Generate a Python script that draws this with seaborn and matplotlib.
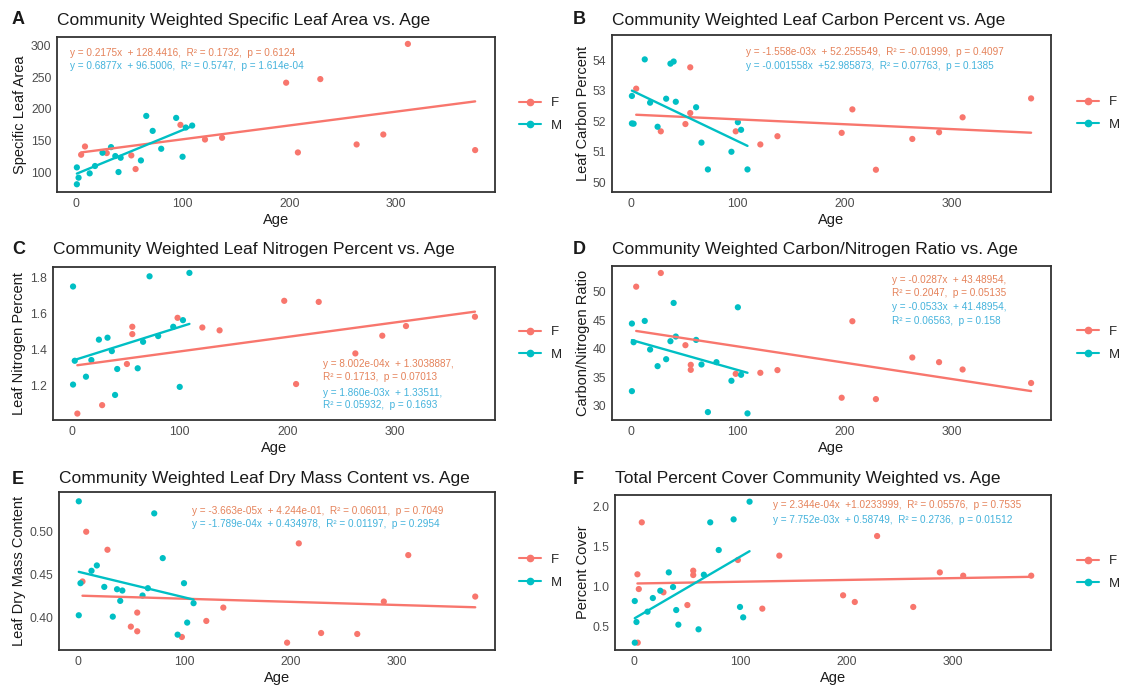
import pandas as pd
import matplotlib.pyplot as plt
import seaborn as sns
from matplotlib.lines import Line2D

sns.set_theme(style='white')
plt.rcParams['font.family'] = ['Liberation Sans', 'DejaVu Sans']

W, H = 1127, 689
pal = {'F': '#F8766D', 'M': '#00BFC4'}
txt_col = {'F': '#E5825A', 'M': '#44B3DC'}

# %% values
age_m = [1, 1, 2.6, 13, 18, 25, 33, 37, 40, 42, 61, 66, 72, 80, 94, 100, 103, 109]
age_m_b = [1, 1, 2.6, 13, 18, 25, 33, 37, 40, 42, 61, 66, 72, 94, 100, 103, 109]

sla_f_age = [5, 8.6, 29, 52, 56, 98, 121, 137, 197, 208, 229, 263, 288, 311, 374]
sla_f = [127.8, 140.8, 130.4, 126.7, 105.2, 174.9, 151.8, 154.5, 241.4, 131.4, 247.1, 144.0, 159.7, 302.6, 135.1]
sla_m = [81.2, 107.8, 91.6, 98.4, 110.0, 130.9, 139.8, 125.7, 100.5, 123.0, 118.8, 189.0, 165.4, 137.2, 185.9, 124.6, 170.7, 173.8]

carbon_f_age = [5, 28, 51, 55.5, 55.5, 98, 121, 137, 197, 207, 229, 263, 288, 310, 374]
carbon_f = [53.07, 51.67, 51.91, 53.77, 52.27, 51.67, 51.24, 51.51, 51.62, 52.39, 50.41, 51.42, 51.64, 52.13, 52.75]
carbon_m = [52.83, 51.93, 51.92, 54.03, 52.61, 51.82, 52.74, 53.89, 53.96, 52.64, 52.46, 51.30, 50.42, 51.0, 51.97, 51.72, 50.42]

nitro_f_age = [5, 28, 51, 56, 56, 98, 121, 137, 197, 208, 229, 263, 288, 310, 374]
nitro_f = [1.042, 1.089, 1.319, 1.527, 1.486, 1.577, 1.523, 1.507, 1.672, 1.207, 1.666, 1.378, 1.477, 1.531, 1.583]
nitro_m = [1.752, 1.204, 1.337, 1.248, 1.341, 1.455, 1.466, 1.391, 1.146, 1.291, 1.295, 1.443, 1.809, 1.475, 1.527, 1.191, 1.564, 1.828]

cn_f_age = [5, 28, 51, 56, 56, 98, 121, 137, 197, 207, 229, 263, 288, 310, 374]
cn_f = [50.92, 53.32, 40.64, 37.19, 36.31, 35.61, 35.79, 36.26, 31.41, 44.85, 31.17, 38.48, 37.66, 36.37, 34.0]
cn_m = [44.44, 32.57, 41.16, 44.9, 39.88, 36.96, 38.18, 41.34, 48.06, 42.16, 41.57, 37.25, 28.89, 37.66, 34.39, 47.3, 35.44, 28.66]

ldmc_f_age = [4.5, 8, 28, 50, 56, 56, 98, 121, 137, 197, 208, 229, 263, 288, 311, 374]
ldmc_f = [0.4415, 0.4992, 0.4783, 0.3891, 0.3837, 0.4054, 0.3771, 0.3957, 0.4112, 0.3705, 0.4857, 0.3817, 0.3806, 0.4182, 0.4721, 0.424]
ldmc_m = [0.5345, 0.4023, 0.4395, 0.4539, 0.4601, 0.4352, 0.4007, 0.4325, 0.419, 0.431, 0.4252, 0.4337, 0.5205, 0.4686, 0.3798, 0.4395, 0.3938, 0.4163]

cover_f_age = [3.5, 3.8, 4.8, 7.6, 28, 50.5, 56, 56, 98, 121, 137, 197, 208, 229, 263, 288, 310, 374]
cover_f = [1.151, 0.301, 0.968, 1.797, 0.927, 0.769, 1.196, 1.142, 1.329, 0.724, 1.383, 0.890, 0.807, 1.627, 0.745, 1.175, 1.134, 1.134]
cover_m = [0.819, 0.301, 0.558, 0.686, 0.856, 0.947, 1.175, 0.993, 0.707, 0.525, 0.467, 1.146, 1.797, 1.453, 1.834, 0.745, 0.616, 2.054]

panels = [
    dict(tag='A', title='Community Weighted Specific Leaf Area vs. Age', ylab='Specific Leaf Area',
         f_age=sla_f_age, f=sla_f, m_age=age_m, m=sla_m,
         yticks=[100, 150, 200, 250, 300], ylim=(69, 313.5), box=(57, 37, 495, 192), title_y=20,
         notes=[('y = 0.2175x  + 128.4416,  R² = 0.1732,  p = 0.6124', 'F', -5, 288),
                ('y = 0.6877x  + 96.5006,  R² = 0.5747,  p = 1.614e-04', 'M', -5, 268)]),
    dict(tag='B', title='Community Weighted Leaf Carbon Percent vs. Age', ylab='Leaf Carbon Percent',
         f_age=carbon_f_age, f=carbon_f, m_age=age_m_b, m=carbon_m,
         yticks=[50, 51, 52, 53, 54], ylim=(49.68, 54.83), box=(612, 35, 1051, 192), title_y=20,
         notes=[('y = -1.558e-03x  + 52.255549,  R² = -0.01999,  p = 0.4097', 'F', 108, 54.28),
                ('y = -0.001558x  +52.985873,  R² = 0.07763,  p = 0.1385', 'M', 108, 53.80)]),
    dict(tag='C', title='Community Weighted Leaf Nitrogen Percent vs. Age', ylab='Leaf Nitrogen Percent',
         f_age=nitro_f_age, f=nitro_f, m_age=age_m, m=nitro_m,
         yticks=[1.2, 1.4, 1.6, 1.8], ylim=(1.006, 1.861), box=(53, 267, 495, 420), title_y=249,
         notes=[('y = 8.002e-04x  + 1.3038887,', 'F', 233, 1.317),
                ('R² = 0.1713,  p = 0.07013', 'F', 233, 1.246),
                ('y = 1.860e-03x  + 1.33511,', 'M', 233, 1.159),
                ('R² = 0.05932,  p = 0.1693', 'M', 233, 1.090)]),
    dict(tag='D', title='Community Weighted Carbon/Nitrogen Ratio vs. Age', ylab='Carbon/Nitrogen Ratio',
         f_age=cn_f_age, f=cn_f, m_age=age_m, m=cn_m,
         yticks=[30, 35, 40, 45, 50], ylim=(27.5, 54.55), box=(612, 266, 1051, 420), title_y=249,
         notes=[('y = -0.0287x  + 43.48954,', 'F', 244, 52.15),
                ('R² = 0.2047,  p = 0.05135', 'F', 244, 49.87),
                ('y = -0.0533x  + 41.48954,', 'M', 244, 47.30),
                ('R² = 0.06563,  p = 0.158', 'M', 244, 44.96)]),
    dict(tag='E', title='Community Weighted Leaf Dry Mass Content vs. Age', ylab='Leaf Dry Mass Content',
         f_age=ldmc_f_age, f=ldmc_f, m_age=age_m, m=ldmc_m,
         yticks=[0.40, 0.45, 0.50], ylim=(0.362, 0.5453), box=(59, 492, 495, 650), title_y=479,
         notes=[('y = -3.663e-05x  + 4.244e-01,  R² = 0.06011,  p = 0.7049', 'F', 108, 0.5235),
                ('y = -1.789e-04x  + 0.434978,  R² = 0.01197,  p = 0.2954', 'M', 108, 0.5083)]),
    dict(tag='F', title='Total Percent Cover Community Weighted vs. Age', ylab='Percent Cover',
         f_age=cover_f_age, f=cover_f, m_age=age_m, m=cover_m,
         yticks=[0.5, 1.0, 1.5, 2.0], ylim=(0.21, 2.137), box=(615, 495, 1051, 650), title_y=479,
         notes=[('y = 2.344e-04x  +1.0233999,  R² = 0.05576,  p = 0.7535', 'F', 131, 2.010),
                ('y = 7.752e-03x  + 0.58749,  R² = 0.2736,  p = 0.01512', 'M', 131, 1.832)]),
]

fig = plt.figure(figsize=(W / 100, H / 100), dpi=100, facecolor='white')


def draw(p):
    left, top, right, bottom = p['box']
    w, h = right - left, bottom - top
    ax = fig.add_axes([left / W, 1 - bottom / H, w / W, h / H])
    df = pd.concat([
        pd.DataFrame({'Age': p['f_age'], 'val': p['f'], 'Type': 'F'}),
        pd.DataFrame({'Age': p['m_age'], 'val': p['m'], 'Type': 'M'}),
    ], ignore_index=True)
    sns.scatterplot(data=df, x='Age', y='val', hue='Type', palette=pal, s=20,
                    linewidth=0, legend=False, ax=ax)
    for g in ['F', 'M']:
        sns.regplot(data=df[df['Type'] == g], x='Age', y='val', scatter=False, ci=None,
                    color=pal[g], line_kws={'lw': 1.7}, ax=ax)
    ax.set_xlim(-17.6, 392.6)
    ax.set_ylim(*p['ylim'])
    ax.set_xticks([0, 100, 200, 300])
    ax.set_yticks(p['yticks'])
    ax.tick_params(length=0, labelsize=8.8, labelcolor='#4D4D4D', pad=4)
    for s in ax.spines.values():
        s.set_visible(True)
        s.set_color('#333333')
        s.set_linewidth(1.3)
    ax.set_xlabel('Age', fontsize=10.5, color='#1a1a1a', va='center')
    ax.xaxis.set_label_coords(0.5, -28 / h)
    ax.set_ylabel(p['ylab'], fontsize=10.5, color='#1a1a1a', va='center')
    ylab_x = 19.5 if left < 300 else 583
    ax.yaxis.set_label_coords((ylab_x - left) / w, 0.5)

    for txt, g, x, y in p['notes']:
        ax.text(x, y, txt, color=txt_col[g], fontsize=7.2, ha='left', va='center')

    handles = [Line2D([], [], color=pal[g], lw=1.5, marker='o', ms=4.5) for g in ['F', 'M']]
    leg_x = 519 if left < 300 else 1077
    ax.legend(handles, ['F', 'M'], loc='center left', bbox_to_anchor=((leg_x - left) / w, 0.5),
              frameon=False, fontsize=9.5, handlelength=1.7, handletextpad=0.7,
              labelspacing=0.8, borderpad=0, borderaxespad=0)

    tag_x = 12 if left < 300 else 573
    fig.text(tag_x / W, 1 - p['title_y'] / H, p['tag'], fontsize=13, fontweight='bold',
             ha='left', va='center', color='#1a1a1a')
    fig.text(left / W, 1 - p['title_y'] / H, p['title'], fontsize=12.5,
             ha='left', va='center', color='#1a1a1a')


for p in panels:
    draw(p)

fig.savefig('out.png', dpi=100, facecolor='white')
